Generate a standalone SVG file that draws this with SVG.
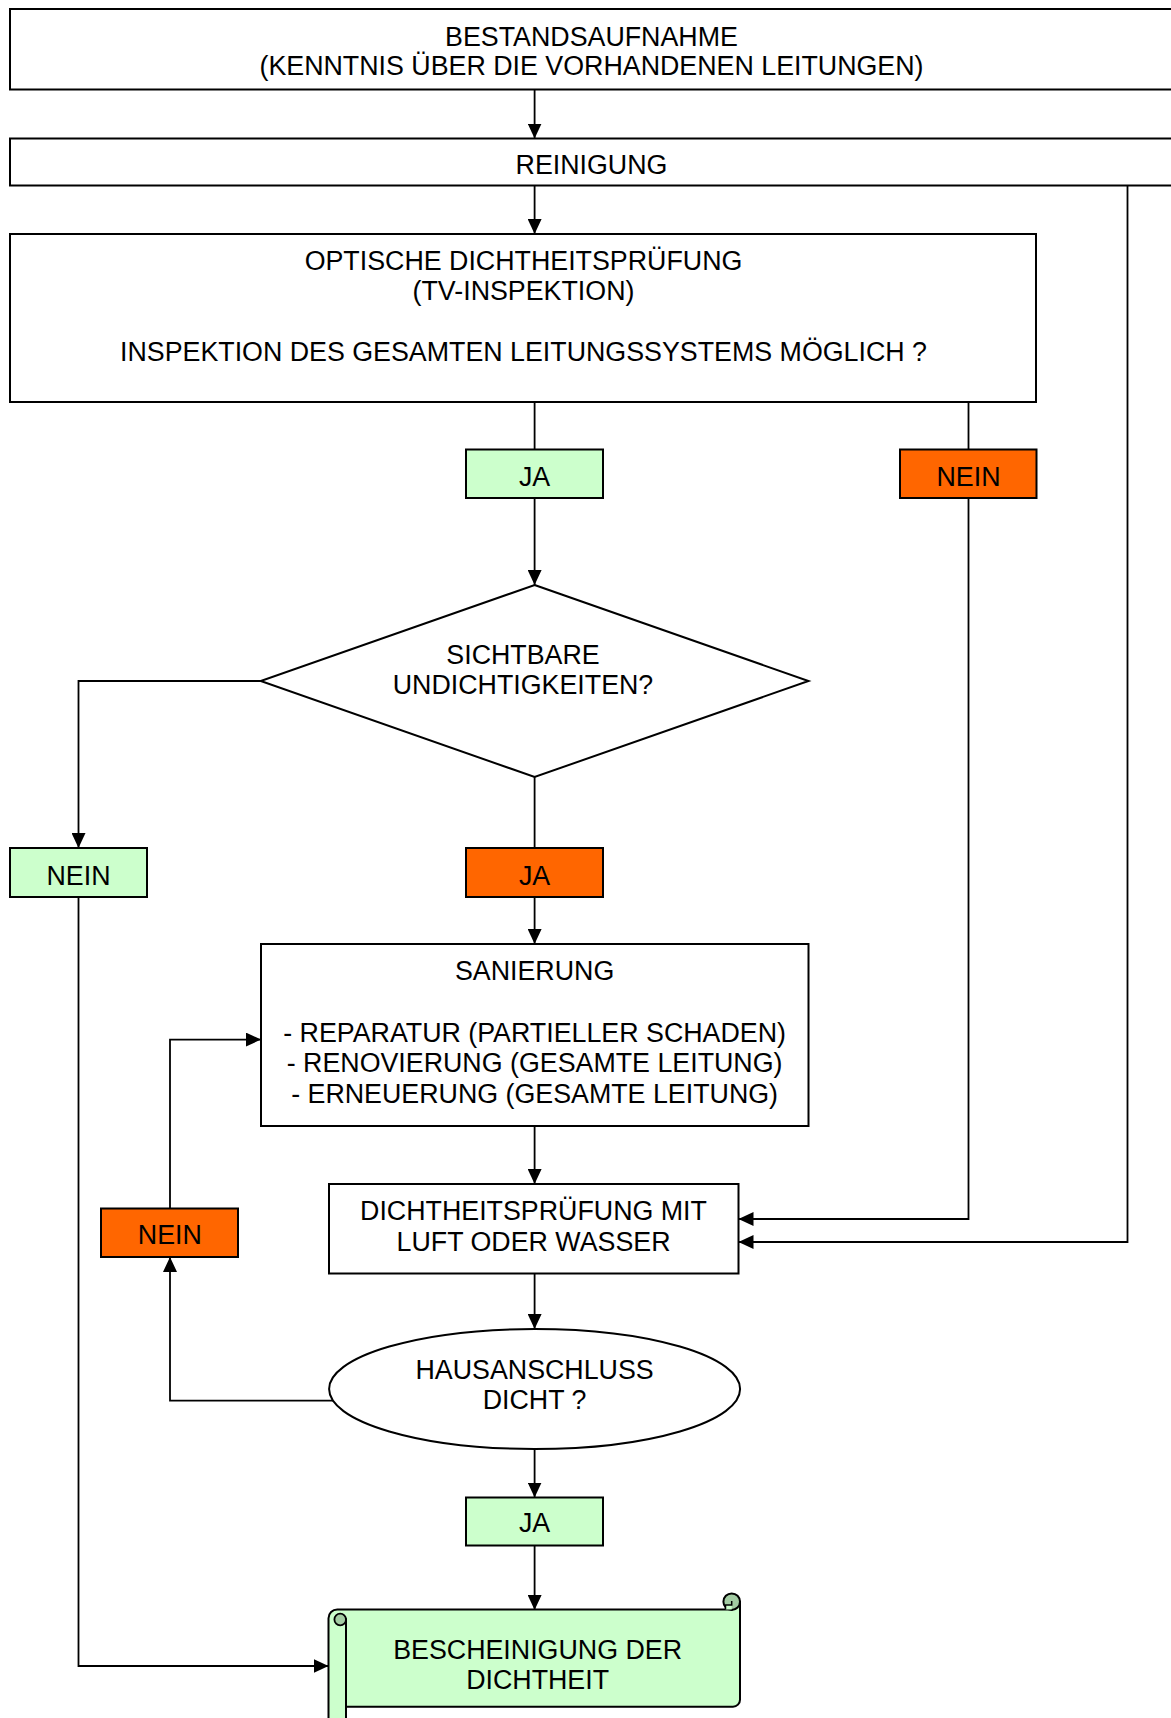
<svg xmlns="http://www.w3.org/2000/svg" width="1171" height="1718" viewBox="0 0 1171 1718">
<style>
.box{fill:#fff;stroke:#000;stroke-width:2}
.g{fill:#CCFFCC;stroke:#000;stroke-width:2}
.o{fill:#FF6600;stroke:#000;stroke-width:2}
.c{fill:none;stroke:#000;stroke-width:1.8}
text{font-family:"Liberation Sans",Arial,sans-serif;font-size:26.8px;fill:#000;text-anchor:middle}
</style>
<defs>
<marker id="a" markerUnits="userSpaceOnUse" markerWidth="15" markerHeight="14" refX="15" refY="7" orient="auto">
<path d="M0,0 L15,7 L0,14 z" fill="#000"/>
</marker>
</defs>
<g id="connectors">
<path class="c" d="M534.6,89.5 V138.5" marker-end="url(#a)"/>
<path class="c" d="M534.6,185.5 V234" marker-end="url(#a)"/>
<path class="c" d="M534.6,402 V449.5"/>
<path class="c" d="M534.6,498 V585" marker-end="url(#a)"/>
<path class="c" d="M968.5,402 V449.5"/>
<path class="c" d="M968.5,498 V1219 H738.5" marker-end="url(#a)"/>
<path class="c" d="M1127.5,185.5 V1242 H738.5" marker-end="url(#a)"/>
<path class="c" d="M260.7,681 H78.5 V848" marker-end="url(#a)"/>
<path class="c" d="M534.6,777 V848"/>
<path class="c" d="M534.6,897 V944" marker-end="url(#a)"/>
<path class="c" d="M534.6,1126 V1184" marker-end="url(#a)"/>
<path class="c" d="M534.6,1273.5 V1329" marker-end="url(#a)"/>
<path class="c" d="M333,1400.7 H170 V1257" marker-end="url(#a)"/>
<path class="c" d="M170,1208.5 V1039.6 H261" marker-end="url(#a)"/>
<path class="c" d="M534.6,1449 V1497.5" marker-end="url(#a)"/>
<path class="c" d="M534.6,1545.5 V1610" marker-end="url(#a)"/>
<path class="c" d="M78.5,897 V1666 H328.5" marker-end="url(#a)"/>
</g>
<g id="bestandsaufnahme">
<rect class="box" x="10" y="9" width="1170" height="80.5"/>
<text x="591.5" y="45.5">BESTANDSAUFNAHME</text>
<text x="591.5" y="75">(KENNTNIS ÜBER DIE VORHANDENEN LEITUNGEN)</text>
</g>
<g id="reinigung">
<rect class="box" x="10" y="138.5" width="1170" height="47"/>
<text x="591.5" y="173.5">REINIGUNG</text>
</g>
<g id="optische">
<rect class="box" x="10" y="234" width="1026" height="168"/>
<text x="523.5" y="270">OPTISCHE DICHTHEITSPRÜFUNG</text>
<text x="523.5" y="300">(TV-INSPEKTION)</text>
<text x="523.5" y="361">INSPEKTION DES GESAMTEN LEITUNGSSYSTEMS MÖGLICH ?</text>
</g>
<g id="ja1">
<rect class="g" x="466" y="449.5" width="137" height="48.5"/>
<text x="534.6" y="486">JA</text>
</g>
<g id="nein1">
<rect class="o" x="900" y="449.5" width="136.5" height="48.5"/>
<text x="968.5" y="486">NEIN</text>
</g>
<g id="sichtbar">
<polygon class="box" points="534.6,585 808.5,681 534.6,777 260.7,681"/>
<text x="523" y="663.5">SICHTBARE</text>
<text x="523" y="694">UNDICHTIGKEITEN?</text>
</g>
<g id="nein2">
<rect class="g" x="10" y="848" width="137" height="49"/>
<text x="78.5" y="884.5">NEIN</text>
</g>
<g id="ja2">
<rect class="o" x="466" y="848" width="137" height="49"/>
<text x="534.6" y="884.5">JA</text>
</g>
<g id="sanierung">
<rect class="box" x="261" y="944" width="547.5" height="182"/>
<text x="534.6" y="980">SANIERUNG</text>
<text x="534.6" y="1042">- REPARATUR (PARTIELLER SCHADEN)</text>
<text x="534.6" y="1072">- RENOVIERUNG (GESAMTE LEITUNG)</text>
<text x="534.6" y="1102.5">- ERNEUERUNG (GESAMTE LEITUNG)</text>
</g>
<g id="dichtheitspruefung">
<rect class="box" x="329" y="1184" width="409.5" height="89.5"/>
<text x="533.5" y="1220">DICHTHEITSPRÜFUNG MIT</text>
<text x="533.5" y="1250.5">LUFT ODER WASSER</text>
</g>
<g id="nein3">
<rect class="o" x="101" y="1208.5" width="137" height="48.5"/>
<text x="169.8" y="1244">NEIN</text>
</g>
<g id="hausanschluss">
<ellipse class="box" cx="534.6" cy="1389" rx="205.5" ry="60"/>
<text x="534.6" y="1378.5">HAUSANSCHLUSS</text>
<text x="534.6" y="1409">DICHT ?</text>
</g>
<g id="ja3">
<rect class="g" x="466" y="1497.5" width="137" height="48"/>
<text x="534.6" y="1532">JA</text>
</g>
<g id="bescheinigung">
<path class="g" d="M328.5,1725 V1618.3 A8.8,8.8 0 0 1 337.3,1609.5 H731.7 V1601.7 H740 V1699.7 A7,7 0 0 1 733,1706.7 H346 V1725 Z"/>
<circle cx="731.7" cy="1601.7" r="8.3" fill="#A3CCA3" stroke="#000" stroke-width="2"/>
<path d="M725.5,1609.5 V1605 H731.7 V1609.5 Z" fill="#CCFFCC" stroke="none"/>
<path d="M725.5,1609.5 V1605 H731.7 V1601" fill="none" stroke="#000" stroke-width="1.5"/>
<path d="M346,1618.3 V1725" fill="none" stroke="#000" stroke-width="2"/>
<path d="M346,1619.5 A5.8,5.8 0 1 0 334.4,1619.5 A5.8,5.8 0 0 0 346,1619.5 Z" fill="#A3CCA3" stroke="#000" stroke-width="1.8"/>
<text x="537.6" y="1659">BESCHEINIGUNG DER</text>
<text x="537.6" y="1688.5">DICHTHEIT</text>
</g>
</svg>
